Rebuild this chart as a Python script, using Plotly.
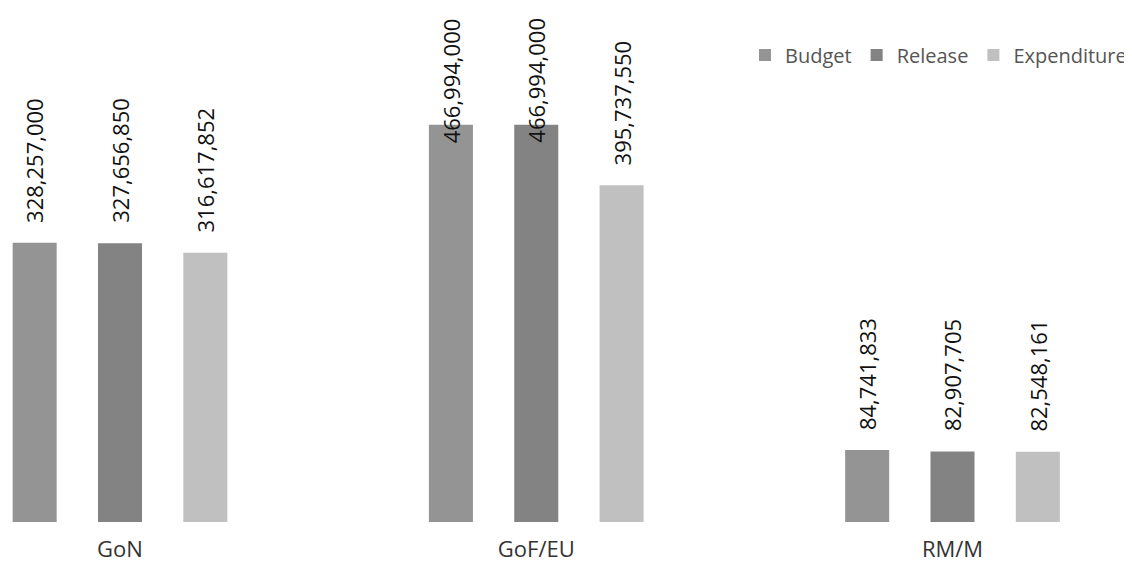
import plotly.graph_objects as go

categories = ["GoN", "GoF/EU", "RM/M"]
series_names = ["Budget", "Release", "Expenditure"]
budget = [328257000, 466994000, 84741833]
release = [327656850, 466994000, 82907705]
expenditure = [316617852, 395737550, 82548161]
series_values = [budget, release, expenditure]
colors = ["#949494", "#838383", "#c0c0c0"]

# the page body adds an 8px margin on the top and left
OFF = 8
W, H = 1132 - OFF, 568 - OFF
baseline_page = 522.5
plot_h = baseline_page - OFF
m_b = H - plot_h
scale = 279.5 / 328257000          # px per unit
ymax = plot_h / scale
band_px = 416.25
x0_px = 120 - OFF
xr = [-x0_px / band_px, (W - x0_px) / band_px]
bargap = 0.385
slot_px = (1 - bargap) * band_px / 3

fig = go.Figure()
for name, vals, col in zip(series_names, series_values, colors):
    fig.add_trace(go.Bar(name=name, x=categories, y=vals, marker=dict(color=col, line=dict(width=0))))

label_len = 127
top_gap = 18 - OFF
for k, vals in enumerate(series_values):
    for cat, v in zip(categories, vals):
        top_px = plot_h - v * scale
        ys = min(18, top_px - (top_gap + label_len))
        fig.add_annotation(x=cat, y=v, xref="x", yref="y", text=f"{v:,}", textangle=-90,
                           showarrow=False, xanchor="center", yanchor="bottom",
                           xshift=(k - 1) * slot_px, yshift=ys,
                           font=dict(family="Open Sans", size=22, color="#111111"))

fig.update_layout(
    width=W, height=H,
    margin=dict(l=0, r=0, t=0, b=m_b),
    paper_bgcolor="white", plot_bgcolor="white",
    barmode="group", bargap=bargap, bargroupgap=0.484,
    showlegend=True,
    legend=dict(orientation="h", x=1.0, xanchor="right", y=1 - (55 - OFF) / plot_h, yanchor="middle",
                font=dict(family="Open Sans", size=20, color="#555555"),
                bgcolor="rgba(0,0,0,0)", itemwidth=30, tracegroupgap=0),
    xaxis=dict(type="category", range=xr, showgrid=False, zeroline=False, showline=False,
               ticks="outside", ticklen=8, tickcolor="rgba(0,0,0,0)",
               tickfont=dict(family="Open Sans", size=22, color="#333333")),
    yaxis=dict(range=[0, ymax], visible=False, showgrid=False, zeroline=False),
)
fig.write_html("out.html")
